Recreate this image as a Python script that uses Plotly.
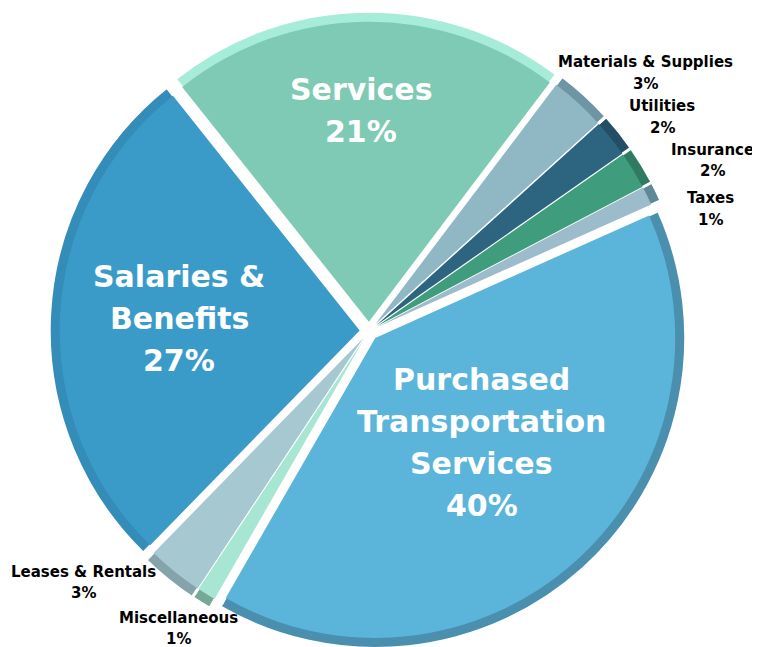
import math
import plotly.graph_objects as go

# ---- data ----
categories = ["Services", "Materials & Supplies", "Utilities", "Insurance", "Taxes",
              "Purchased Transportation Services", "Miscellaneous", "Leases & Rentals",
              "Salaries & Benefits"]
label_lines = [["Services"], ["Materials & Supplies"], ["Utilities"], ["Insurance"], ["Taxes"],
               ["Purchased", "Transportation", "Services"], ["Miscellaneous"],
               ["Leases & Rentals"], ["Salaries &", "Benefits"]]
values = [21, 3, 2, 2, 1, 40, 1, 3, 27]

# ---- styles ----
face_colors = ["#7fcab4", "#8fb8c4", "#2d6580", "#3f9c7c", "#9cbccb",
               "#5bb4d9", "#a8e6d4", "#a6c8d1", "#3a9bc8"]
rim_colors = ["#a6ecd9", "#6e95a3", "#234f66", "#2f7a60", "#5f8796",
              "#4b8fae", "#76a898", "#86a3ac", "#348cb8"]
inside = [True, False, False, False, False, True, False, False, True]
label_radius = [0.705, 1.217, 1.168, 1.235, 1.171, 0.52, 1.145, 1.23, 0.61]
label_nudge = [-1.1, 4.9, 2.8, 5.3, 6.7, -2.8, 0.6, 9.3, 0.1]

W, H = 760, 647
CX, CY = 368.0, 328.0     # pie centre on the page (pixels)
R = 310.0                 # outer radius in pixels
RIM = 10.0                # bevel rim width
PULL = 0.03
ROTATION = -38.5
PIE_SHIFT = (-7.0, -5.0)  # page offset compensation for the pie domain
ANN_SHIFT = (-8.0, -7.5)  # page offset compensation for annotations

def domain_for(radius, pull):
    half = radius * (1 + pull)
    cx = CX + PIE_SHIFT[0]
    cy = CY + PIE_SHIFT[1]
    return dict(x=[(cx - half) / W, (cx + half) / W],
                y=[1 - (cy + half) / H, 1 - (cy - half) / H])

r_in = R - RIM
pull_in = PULL * R / r_in

fig = go.Figure()
fig.add_trace(go.Pie(
    labels=categories, values=values, sort=False, direction="clockwise",
    rotation=ROTATION, pull=[PULL] * len(values),
    marker=dict(colors=rim_colors, line=dict(color="white", width=2)),
    textinfo="none", hoverinfo="skip", showlegend=False,
    domain=domain_for(R, PULL),
))
fig.add_trace(go.Pie(
    labels=categories, values=values, sort=False, direction="clockwise",
    rotation=ROTATION, pull=[pull_in] * len(values),
    marker=dict(colors=face_colors, line=dict(color="white", width=0)),
    textinfo="none", hovertemplate="%{label}: %{percent}<extra></extra>",
    showlegend=False,
    domain=domain_for(r_in, pull_in),
))

total = sum(values)
cum = 0.0
for i, v in enumerate(values):
    mid = ROTATION + (cum + v / 2) / total * 360.0
    cum += v
    a = math.radians(mid + label_nudge[i])
    d = label_radius[i] * R
    px = CX + ANN_SHIFT[0] + d * math.sin(a)
    py = CY + ANN_SHIFT[1] - d * math.cos(a)
    pct = round(v / total * 100)
    lines = label_lines[i] + [f"{pct}%"]
    if inside[i]:
        font = dict(family="DejaVu Sans", size=30, color="white", weight="bold")
        ls = 42.0
    else:
        font = dict(family="DejaVu Sans", size=15, color="black", weight="bold")
        ls = 21.5
    n = len(lines)
    for j, line in enumerate(lines):
        fig.add_annotation(
            x=px / W, y=1 - py / H, xref="paper", yref="paper",
            text=line, showarrow=False, font=font,
            xanchor="center", yanchor="middle",
            yshift=((n - 1) / 2 - j) * ls,
        )

fig.update_layout(
    width=W, height=H,
    margin=dict(l=0, r=0, t=0, b=0),
    paper_bgcolor="white", plot_bgcolor="white",
)

fig.write_html("out.html")
